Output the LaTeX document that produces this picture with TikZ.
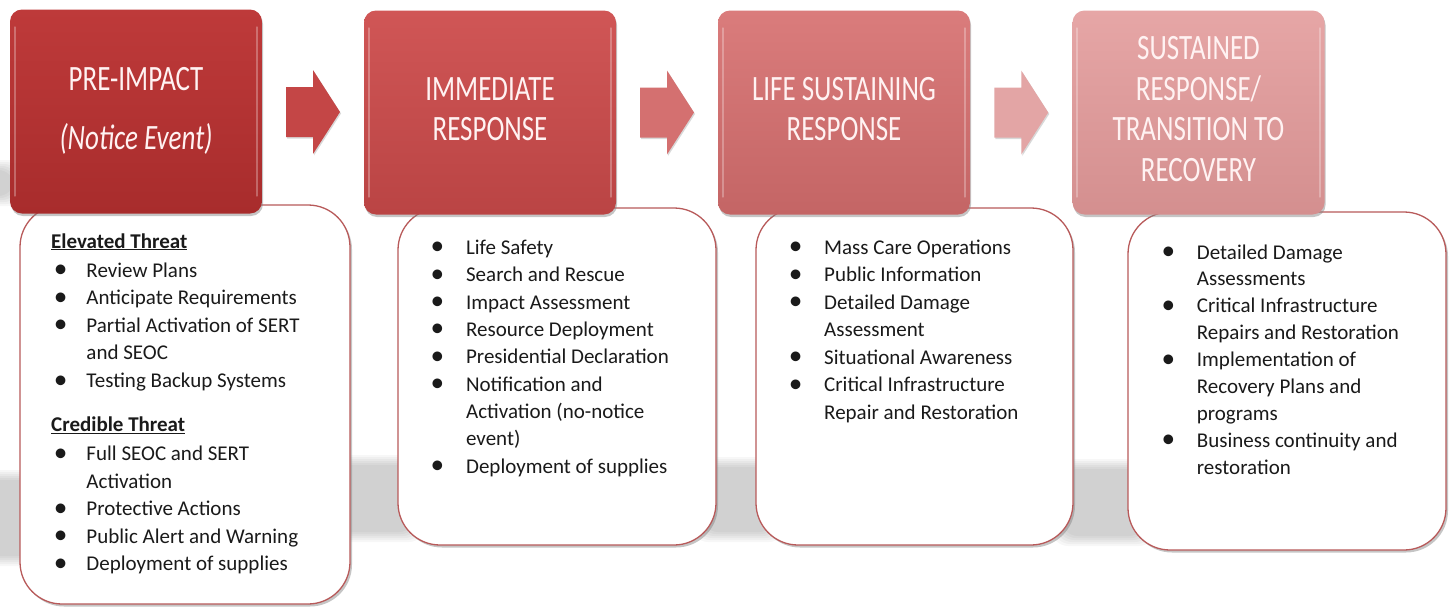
\documentclass[tikz,border=0pt]{standalone}
\usepackage{fontspec}
\usepackage{graphicx}
\setmainfont{Carlito}
\usetikzlibrary{shadows,calc}
\definecolor{hAt}{HTML}{BE3A3A}\definecolor{hAb}{HTML}{A82C2C}
\definecolor{hBt}{HTML}{D05656}\definecolor{hBb}{HTML}{BA4444}
\definecolor{hCt}{HTML}{DA7C7C}\definecolor{hCb}{HTML}{C46565}
\definecolor{hDt}{HTML}{E6A6A6}\definecolor{hDb}{HTML}{D48F8F}
\definecolor{arA}{HTML}{C44646}\definecolor{arB}{HTML}{D47070}\definecolor{arC}{HTML}{E3A5A5}
\definecolor{hdrtxt}{HTML}{FFF2F2}
\definecolor{bodytxt}{HTML}{1A1A1A}
\definecolor{boxline}{HTML}{B85A5A}
\newlength\bulw \newlength\bulind
\newcommand\bi[1]{\hspace*{\bulind}\makebox[\bulw][l]{\raisebox{-0.6pt}{\scalebox{1.3}{\textbullet}}}#1}
\newcommand\bc[1]{\hspace*{\dimexpr\bulind+\bulw\relax}#1}
\newcommand\hdrtext[1]{\scalebox{1}[1.32]{\fontsize{27}{30.8}\selectfont\begin{tabular}{@{}c@{}}#1\end{tabular}}}
\newcommand\softband[4]{%
  \foreach \d in {0,2,...,10}{\fill[black, opacity=0.032, rounded corners=16pt] (#1+\d,#2+\d) rectangle (#3-\d,#4-\d);}}
\begin{document}
\begin{tikzpicture}[x=1pt,y=-1pt,
  hdr/.style={rounded corners=12pt, minimum width=252pt, minimum height=204pt, inner sep=0pt,
    text=hdrtxt, drop shadow={shadow xshift=1pt, shadow yshift=-2.5pt, opacity=0.45}},
  cbox/.style={draw=boxline, line width=1.3pt, fill=white, rounded corners=42pt, inner sep=0pt,
    drop shadow={shadow xshift=2pt, shadow yshift=-2.5pt, opacity=0.45}},
  arw/.style={drop shadow={shadow xshift=1pt, shadow yshift=-1.5pt, opacity=0.3}},
  body/.style={align=left, inner sep=0pt, text=bodytxt, anchor=base west},
  hilite/.style={white, opacity=0.28, line width=2.2pt, line cap=round}
]
\useasboundingbox (0,0) rectangle (1452,608);
\fill[white] (0,0) rectangle (1452,608);
% background shadow bands
\softband{-30}{160}{24}{206}
\softband{-30}{470}{44}{566}
\softband{322}{455}{425}{542}
\softband{692}{457}{785}{542}
\softband{1052}{459}{1155}{546}
% content boxes
\node[cbox, minimum width=330pt, minimum height=399pt] (b1) at (185,404.5) {};
\node[cbox, minimum width=318pt, minimum height=337pt] (b2) at (557,376.5) {};
\node[cbox, minimum width=317pt, minimum height=337pt] (b3) at (914.5,376.5) {};
\node[cbox, minimum width=318pt, minimum height=338pt] (b4) at (1287,381) {};
% header boxes
\node[hdr, top color=hAt, bottom color=hAb] (h1) at (136,111.5)
  {\hdrtext{PRE-IMPACT\\[14pt]\itshape (Notice Event)}};
\node[hdr, top color=hBt, bottom color=hBb] (h2) at (490,112.5)
  {\hdrtext{IMMEDIATE\\RESPONSE}};
\node[hdr, top color=hCt, bottom color=hCb] (h3) at (844,112.5)
  {\hdrtext{LIFE SUSTAINING\\RESPONSE}};
\node[hdr, top color=hDt, bottom color=hDb] (h4) at (1198.5,112.5)
  {\hdrtext{SUSTAINED\\RESPONSE/\\TRANSITION TO\\RECOVERY}};
\foreach \h in {h1,h2,h3,h4}{
  \draw[hilite] ([xshift=5pt,yshift=-18pt]\h.north west) -- ([xshift=5pt,yshift=18pt]\h.south west);
  \draw[hilite] ([xshift=-5pt,yshift=-18pt]\h.north east) -- ([xshift=-5pt,yshift=18pt]\h.south east);
}
% arrows
\coordinate (a1) at ($(h1.east)!0.5!(h2.west)$);
\coordinate (a2) at ($(h2.east)!0.5!(h3.west)$);
\coordinate (a3) at ($(h3.east)!0.5!(h4.west)$);
\foreach \c/\col in {a1/arA,a2/arB,a3/arC}{
  \fill[arw, fill=\col, shift={(\c)}] (-27,-25) -- (0,-25) -- (0,-42) -- (27,0) -- (0,42) -- (0,25) -- (-27,25) -- cycle;
}
% texts (anchored at the baseline of the last line)
\node[body, font={\fontsize{21}{27.6}\selectfont\setlength\bulw{32.7pt}\setlength\bulind{2.6pt}}] (t1) at (51,570.9)
 {\textbf{\underline{Elevated Threat}}\\[1.4pt]
  \bi{Review Plans}\\
  \bi{Anticipate Requirements}\\
  \bi{Partial Activation of SERT}\\
  \bc{and SEOC}\\
  \bi{Testing Backup Systems}\\[16.5pt]
  \textbf{\underline{Credible Threat}}\\[1.4pt]
  \bi{Full SEOC and SERT}\\
  \bc{Activation}\\
  \bi{Protective Actions}\\
  \bi{Public Alert and Warning}\\
  \bi{Deployment of supplies}};
\node[body, font={\fontsize{21}{27.35}\selectfont\setlength\bulw{35.4pt}\setlength\bulind{0pt}}] (t2) at (430.5,473.1)
 {\bi{Life Safety}\\
  \bi{Search and Rescue}\\
  \bi{Impact Assessment}\\
  \bi{Resource Deployment}\\
  \bi{Presidential Declaration}\\
  \bi{Notification and}\\
  \bc{Activation (no-notice}\\
  \bc{event)}\\
  \bi{Deployment of supplies}};
\node[body, font={\fontsize{21}{27.5}\selectfont\setlength\bulw{35.4pt}\setlength\bulind{0pt}}] (t3) at (788.6,419.3)
 {\bi{Mass Care Operations}\\
  \bi{Public Information}\\
  \bi{Detailed Damage}\\
  \bc{Assessment}\\
  \bi{Situational Awareness}\\
  \bi{Critical Infrastructure}\\
  \bc{Repair and Restoration}};
\node[body, font={\fontsize{21}{26.9}\selectfont\setlength\bulw{35.4pt}\setlength\bulind{0pt}}] (t4) at (1161.3,474.2)
 {\bi{Detailed Damage}\\
  \bc{Assessments}\\
  \bi{Critical Infrastructure}\\
  \bc{Repairs and Restoration}\\
  \bi{Implementation of}\\
  \bc{Recovery Plans and}\\
  \bc{programs}\\
  \bi{Business continuity and}\\
  \bc{restoration}};
\end{tikzpicture}
\end{document}
